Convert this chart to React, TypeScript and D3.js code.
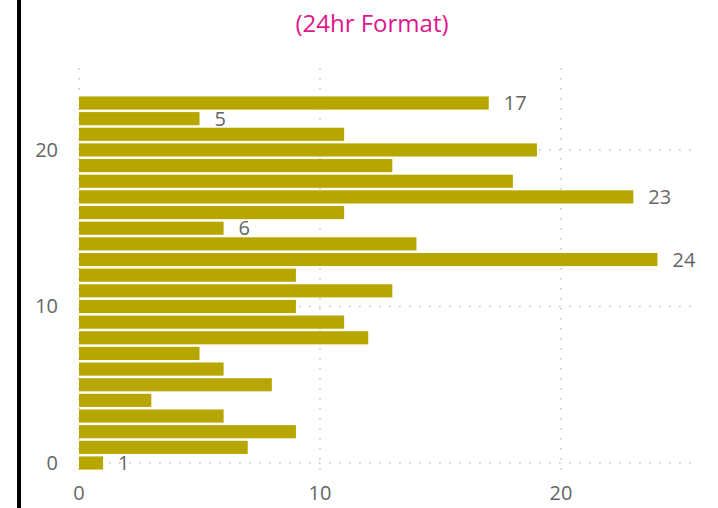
import React from "react";
import { scaleLinear } from "d3";

const hours = [0, 1, 2, 3, 4, 5, 6, 7, 8, 9, 10, 11, 12, 13, 14, 15, 16, 17, 18, 19, 20, 21, 22, 23];
const counts = [1, 7, 9, 6, 3, 8, 6, 5, 12, 11, 9, 13, 9, 24, 14, 6, 11, 23, 18, 13, 19, 11, 5, 17];
// only some bars carry a data label in the original
const labelledHours = [0, 15, 22, 23, 17, 13];
const xTicks = [0, 10, 20];
const yTicks = [0, 10, 20];

const title = "(24hr Format)";
const font = "'Segoe UI', 'Open Sans', 'Noto Sans', sans-serif";
const grey = "#666666";

function App() {
  const W = 718;
  const H = 508;

  const x = scaleLinear().domain([0, 25.35]).range([79, 690]);
  const y = scaleLinear().domain([0, 23]).range([463, 103]);
  const step = Math.abs(y(1) - y(0));
  const barH = step * 0.84;

  return (
    <svg
      width={W}
      height={H}
      style={{ position: "absolute", left: 0, top: 0, background: "#fff" }}
      fontFamily={font}
    >
      <rect x={17} y={0} width={4} height={H} fill="#000" />

      <text x={372} y={32} textAnchor="middle" fontSize={24} fill="#e0168c">
        {title}
      </text>

      {/* gridlines */}
      {xTicks.map((t) => (
        <line
          key={`gx-${t}`}
          x1={x(t)}
          x2={x(t)}
          y1={68}
          y2={470}
          stroke="#c4c4c4"
          strokeWidth={1.6}
          strokeDasharray="1.6 8.4"
        />
      ))}
      {yTicks.map((t) => (
        <line
          key={`gy-${t}`}
          x1={x(0)}
          x2={692}
          y1={y(t)}
          y2={y(t)}
          stroke="#c4c4c4"
          strokeWidth={1.6}
          strokeDasharray="1.6 8.4"
        />
      ))}

      {/* bars */}
      {hours.map((h, i) => (
        <rect
          key={`bar-${h}`}
          x={x(0)}
          y={y(h) - barH / 2}
          width={x(counts[i]) - x(0)}
          height={barH}
          fill="#b7a600"
        />
      ))}

      {/* data labels */}
      {hours
        .filter((h) => labelledHours.includes(h))
        .map((h) => (
          <text
            key={`lbl-${h}`}
            x={x(counts[h]) + 15}
            y={y(h) + 7}
            fontSize={20}
            fill={grey}
          >
            {counts[h]}
          </text>
        ))}

      {/* axes labels */}
      {yTicks.map((t) => (
        <text key={`yt-${t}`} x={58} y={y(t) + 7} textAnchor="end" fontSize={20} fill={grey}>
          {t}
        </text>
      ))}
      {xTicks.map((t) => (
        <text key={`xt-${t}`} x={x(t)} y={500} textAnchor="middle" fontSize={20} fill={grey}>
          {t}
        </text>
      ))}
    </svg>
  );
}

export default App;
